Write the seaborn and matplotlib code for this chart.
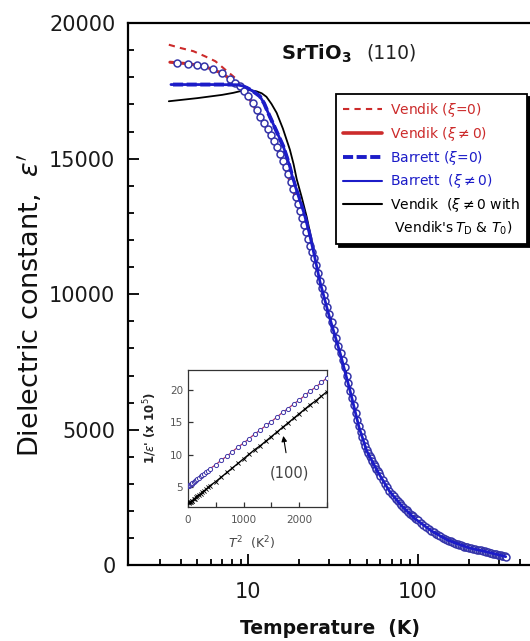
import matplotlib

matplotlib.use("Agg")

import matplotlib.pyplot as plt
import seaborn as sns
from matplotlib.lines import Line2D
from matplotlib.ticker import FixedLocator, NullFormatter

# measured dielectric constant, SrTiO3 (110)
T_DATA = [3.8, 4.4, 5.0, 5.5, 6.2, 7.0, 7.8, 8.4, 8.9, 9.5,
          10.0, 10.6, 11.2, 11.8, 12.4, 13.0, 13.6, 14.2, 14.8, 15.4,
          16.0, 16.6, 17.2, 17.8, 18.4, 19.0, 19.6, 20.2, 20.8, 21.4,
          22.0, 22.6, 23.2, 23.8, 24.4, 25.0, 25.7, 26.4, 27.1, 27.8,
          28.5, 29.2, 30.0, 31.0, 32.0, 33.0, 34.0, 35.0, 36.0, 37.0,
          38.0, 39.0, 40, 41, 42, 43, 44, 45, 46, 47,
          48, 49, 50, 51, 52, 53, 54, 55, 56, 57,
          58, 59, 60, 62, 64, 66, 68, 70, 72, 74,
          76, 78, 80, 82, 84, 86, 88, 90, 92, 94,
          96, 98, 100, 104, 108, 112, 116, 120, 124, 128,
          132, 136, 140, 144, 148, 152, 156, 160, 164, 168,
          172, 176, 180, 184, 188, 192, 196, 200, 206, 212,
          218, 224, 230, 236, 242, 248, 254, 260, 266, 272,
          278, 284, 290, 296, 302, 308, 314, 320, 326, 330]
EPS_DATA = [18530, 18505, 18465, 18410, 18310, 18160, 17950, 17800, 17670, 17500,
            17300, 17050, 16800, 16550, 16320, 16100, 15880, 15650, 15420, 15180,
            14930, 14680, 14420, 14150, 13870, 13590, 13330, 13070, 12820, 12560,
            12290, 12030, 11790, 11560, 11320, 11080, 10780, 10480, 10230, 9990,
            9750, 9530, 9280, 8980, 8680, 8390, 8110, 7840, 7580, 7320,
            7000, 6720, 6440, 6170, 5900, 5630, 5380, 5130, 4920, 4740,
            4560, 4400, 4250, 4140, 4040, 3950, 3850, 3760, 3660, 3570,
            3480, 3400, 3310, 3160, 3010, 2880, 2760, 2650, 2550, 2460,
            2380, 2300, 2230, 2160, 2090, 2030, 1970, 1910, 1860, 1810,
            1760, 1710, 1660, 1580, 1500, 1420, 1350, 1290, 1230, 1170,
            1120, 1070, 1030, 990, 950, 920, 890, 860, 830, 805,
            780, 760, 740, 720, 700, 680, 665, 650, 630, 612,
            598, 584, 570, 556, 540, 522, 506, 490, 474, 458,
            442, 428, 414, 400, 386, 372, 358, 344, 332, 325]

# model curves
T_VD0 = [3.4, 3.95, 4.75, 5.55, 6.4, 7.3, 8.35, 9.3, 10.2, 11.2, 12.4, 13.6, 15.4,
         17.2, 19.0, 21.4, 23.8, 27.1, 30.0, 35.0, 40.0, 45.0, 55.0, 68.0, 85.0,
         110, 150, 200, 260, 330]
EPS_VD0 = [19200, 19085, 18960, 18775, 18590, 18285, 17980, 17600, 17200, 16780, 16290,
           15850, 15150, 14390, 13560, 12530, 11530, 10200, 9260, 7830, 6430, 5120,
           3760, 2750, 2040, 1430, 935, 650, 490, 325]

T_VN = [3.45, 4.4, 5.5, 7.0, 8.4, 10.0, 12.4, 15.4, 18.4, 21.4, 25.0, 30.0, 35.0,
        40.0, 45.0, 55.0, 68.0, 85.0, 110, 150, 200, 260, 330]
EPS_VN = [18555, 18500, 18405, 18150, 17790, 17290, 16310, 15170, 13860, 12550, 11070,
          9270, 7830, 6430, 5120, 3760, 2750, 2050, 1440, 935, 650, 490, 325]

T_BD0 = [3.6, 8.0, 9.0, 9.8, 10.7, 11.7, 12.4, 13.1, 14.5, 16.1, 17.3, 18.4, 19.8,
         21.3, 22.8, 24.5, 26.5, 30.0, 35.0, 40.0, 45.0, 50.0, 58.0, 68.0, 80.0,
         95.0, 120, 150, 200, 260, 330]
EPS_BD0 = [17731, 17731, 17700, 17610, 17480, 17300, 17040, 16690, 16080, 15450, 14850,
           14225, 13600, 13000, 12300, 11450, 10450, 9200, 7780, 6400, 5100, 4220,
           3460, 2740, 2210, 1750, 1280, 935, 650, 490, 325]

T_BN = [3.5, 6.0, 8.5, 9.3, 9.8, 10.7, 11.7, 12.4, 13.1, 14.5, 16.1, 17.3, 18.4,
        19.8, 21.3, 22.8, 24.5, 26.5, 30.0, 35.0, 40.0, 45.0, 50.0, 58.0, 68.0,
        80.0, 95.0, 120, 150, 200, 260, 330]
EPS_BN = [17731, 17731, 17725, 17680, 17610, 17480, 17300, 17040, 16690, 16080, 15450,
          14850, 14225, 13600, 13000, 12300, 11450, 10450, 9200, 7780, 6400, 5100,
          4220, 3460, 2740, 2210, 1750, 1280, 935, 650, 490, 325]

T_BK = [3.4, 5.0, 7.0, 8.15, 9.15, 10.2, 11.2, 12.0, 12.8, 13.7, 14.7, 16.0, 17.6,
        18.5, 19.3, 20.7, 22.1, 23.3, 25.0, 27.0, 30.0, 35.0, 40.0, 45.0, 55.0,
        68.0, 85.0, 110, 150, 200, 260, 330]
EPS_BK = [17115, 17230, 17350, 17425, 17500, 17530, 17480, 17410, 17280, 17020, 16690,
          16110, 15330, 14800, 14250, 13560, 12860, 12180, 11250, 10400, 9350, 7900,
          6560, 5250, 3800, 2780, 2060, 1450, 940, 650, 490, 325]

# inset: 1/eps' (x 1e-5) against T^2
T2_INSET = [16, 25, 36, 49, 64, 81, 100, 121, 144, 169, 196, 225, 256, 289, 324, 361,
            400, 500, 600, 700, 800, 900, 1000, 1100, 1200, 1300, 1400, 1500, 1600,
            1700, 1800, 1900, 2000, 2100, 2200, 2300, 2400, 2500]
INV_110 = [5.3, 5.4, 5.4, 5.5, 5.6, 5.7, 5.9, 6.0, 6.2, 6.3, 6.5, 6.7, 6.9, 7.1, 7.4,
           7.6, 7.9, 8.5, 9.2, 9.8, 10.5, 11.2, 11.8, 12.5, 13.2, 13.8, 14.5, 15.1,
           15.8, 16.5, 17.1, 17.8, 18.4, 19.1, 19.8, 20.4, 21.1, 21.8]
INV_100 = [2.6, 2.7, 2.7, 2.8, 2.9, 3.0, 3.2, 3.3, 3.5, 3.7, 3.9, 4.0, 4.3, 4.5, 4.7,
           5.0, 5.3, 5.9, 6.6, 7.3, 8.0, 8.7, 9.4, 10.1, 10.8, 11.4, 12.1, 12.8,
           13.5, 14.2, 14.9, 15.6, 16.3, 17.0, 17.7, 18.3, 19.0, 19.7]

LEGEND_LABELS = [
    r"Vendik ($\xi$=0)",
    r"Vendik ($\xi$$\neq$0)",
    r"Barrett ($\xi$=0)",
    r"Barrett  ($\xi$$\neq$0)",
    r"Vendik  ($\xi$$\neq$0 with",
    r" Vendik's$\,T_{\rm D}$ & $T_{0}$)",
]

RED = "#cc2b2b"
BLUE = "#1c1cc8"
EDGE = "#3333a8"
GREY = "#555555"

sns.set_style("ticks")
plt.rcParams["font.family"] = ["DejaVu Sans"]
plt.rcParams["mathtext.fontset"] = "dejavusans"

fig = plt.figure(figsize=(5.30, 6.41), dpi=100)
ax = fig.add_axes([0.2413, 0.1178, 0.7706, 0.8463])

sns.lineplot(x=T_VD0, y=EPS_VD0, ax=ax, color=RED, linewidth=1.5,
             linestyle=(0, (3.0, 2.5)), estimator=None, sort=False, zorder=2)
sns.lineplot(x=T_VN, y=EPS_VN, ax=ax, color=RED, linewidth=2.2,
             estimator=None, sort=False, zorder=2)
sns.lineplot(x=T_BK, y=EPS_BK, ax=ax, color="black", linewidth=1.3,
             estimator=None, sort=False, zorder=2)
sns.lineplot(x=T_BD0, y=EPS_BD0, ax=ax, color=BLUE, linewidth=2.8,
             linestyle=(0, (2.6, 0.9)), estimator=None, sort=False, zorder=2)
sns.scatterplot(x=T_DATA, y=EPS_DATA, ax=ax, s=25, color="white",
                edgecolor=EDGE, linewidth=1.1, zorder=3)
sns.lineplot(x=T_BN, y=EPS_BN, ax=ax, color=BLUE, linewidth=2.0,
             estimator=None, sort=False, zorder=4)

ax.set_xscale("log")
ax.set_xlim(1.95, 500)
ax.set_ylim(0, 20000)
ax.xaxis.set_major_locator(FixedLocator([10, 100]))
ax.xaxis.set_minor_locator(FixedLocator([3, 4, 5, 6, 7, 8, 9, 20, 30, 40, 50, 60, 70,
                                         80, 90, 200, 300, 400]))
ax.xaxis.set_minor_formatter(NullFormatter())
ax.set_xticklabels(["10", "100"])
ax.yaxis.set_major_locator(FixedLocator([0, 5000, 10000, 15000, 20000]))
ax.yaxis.set_minor_locator(FixedLocator(range(1000, 20000, 1000)))
ax.tick_params(axis="both", which="both", direction="in", top=False, right=False,
               width=1.3, colors="black", labelcolor="#1a1a1a", labelsize=15)
ax.tick_params(axis="both", which="major", length=8)
ax.tick_params(axis="both", which="minor", length=4.5)
ax.tick_params(axis="x", pad=12)
ax.tick_params(axis="y", pad=9)
for side in ["left", "bottom", "top"]:
    ax.spines[side].set_linewidth(1.6)
    ax.spines[side].set_color("black")
ax.spines["right"].set_visible(False)

ax.set_xlabel("Temperature  (K)", fontsize=13.5, fontweight="bold", color="#111111")
ax.xaxis.set_label_coords(0.495, -0.098)
ax.set_ylabel(r"Dielectric constant,  $\varepsilon'$", fontsize=19.5, color="#111111")
ax.yaxis.set_label_coords(-0.205, 0.48)

ax.text(0.375, 0.944, r"$\mathbf{SrTiO}_{\mathbf{3}}$", transform=ax.transAxes,
        fontsize=14, ha="left", va="center", color="#111111")
ax.text(0.585, 0.944, "(110)", transform=ax.transAxes, fontsize=13.5, ha="left",
        va="center", color="#222222")

handles = [
    Line2D([], [], color=RED, linewidth=1.5, linestyle=(0, (3.0, 2.5))),
    Line2D([], [], color=RED, linewidth=2.6),
    Line2D([], [], color=BLUE, linewidth=2.8, linestyle=(0, (2.6, 0.9))),
    Line2D([], [], color=BLUE, linewidth=1.5),
    Line2D([], [], color="black", linewidth=1.5),
    Line2D([], [], color="none"),
]
leg = fig.legend(handles, LEGEND_LABELS, loc="upper right",
                 bbox_to_anchor=(0.9943, 0.8534), bbox_transform=fig.transFigure,
                 fontsize=10, frameon=True, fancybox=False,
                 shadow={"color": "black", "alpha": 1.0}, edgecolor="black",
                 borderaxespad=0, borderpad=0.5, labelspacing=0.42,
                 handlelength=2.8, handletextpad=0.6)
leg.get_frame().set_linewidth(1.3)
for text, color in zip(leg.get_texts(), [RED, RED, BLUE, BLUE, "black", "black"]):
    text.set_color(color)

# inset
ins = fig.add_axes([0.3547, 0.2090, 0.2623, 0.2137])
ins.set_facecolor("white")
sns.lineplot(x=T2_INSET, y=INV_110, ax=ins, color="#a8306e", linewidth=0.9,
             estimator=None, sort=False, zorder=2)
sns.scatterplot(x=T2_INSET, y=INV_110, ax=ins, s=9, color="white",
                edgecolor="#3d35a8", linewidth=0.7, zorder=3)
sns.lineplot(x=T2_INSET, y=INV_100, ax=ins, color="black", linewidth=1.0,
             estimator=None, sort=False, zorder=2)
sns.scatterplot(x=T2_INSET, y=INV_100, ax=ins, s=9, marker="x", color="black",
                linewidth=0.6, zorder=3)

ins.set_xlim(0, 2500)
ins.set_ylim(2, 23)
ins.xaxis.set_major_locator(FixedLocator([0, 1000, 2000]))
ins.xaxis.set_minor_locator(FixedLocator([500, 1500, 2500]))
ins.yaxis.set_major_locator(FixedLocator([5, 10, 15, 20]))
ins.tick_params(axis="both", which="both", direction="in", length=3.5, width=0.9,
                colors="#333333", labelcolor=GREY, labelsize=7.5, top=False, right=False)
ins.tick_params(axis="x", pad=6)
ins.tick_params(axis="y", pad=3.5)
for side in ["left", "bottom", "top", "right"]:
    ins.spines[side].set_linewidth(0.9)
    ins.spines[side].set_color("#333333")

ins.set_xlabel(r"$T^2$  (K$^2$)", fontsize=9, color="#444444")
ins.xaxis.set_label_coords(0.46, -0.2)
ins.set_ylabel(r"1/$\varepsilon$' (x 10$^5$)", fontsize=8.5, fontweight="bold",
               color="#222222")
ins.yaxis.set_label_coords(-0.205, 0.577)

ins.annotate("(100)", xy=(1714, 12.9), xytext=(1822, 7.2), fontsize=10.5,
             color="#444444", ha="center", va="center",
             arrowprops=dict(arrowstyle="-|>", color="black", linewidth=0.8,
                             mutation_scale=8, shrinkA=7, shrinkB=0))

fig.savefig("out.png", dpi=100)
